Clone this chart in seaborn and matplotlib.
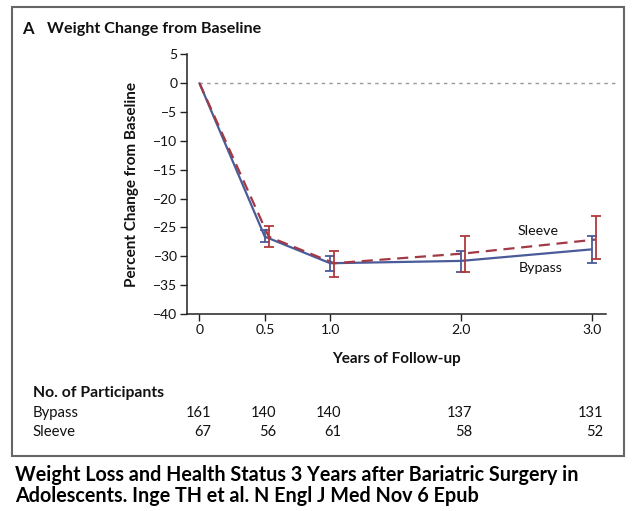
import numpy as np
import pandas as pd
import matplotlib
matplotlib.use("Agg")
import matplotlib.pyplot as plt
import matplotlib.transforms as mtransforms
from matplotlib.patches import Rectangle
import seaborn as sns

# ---- data ----
years = [0, 0.5, 1.0, 2.0, 3.0]
bypass_mean = [0.0, -26.6, -31.2, -30.8, -28.8]
bypass_low = [np.nan, -27.5, -32.5, -32.7, -31.1]
bypass_high = [np.nan, -25.5, -29.9, -29.0, -26.5]
sleeve_mean = [0.0, -26.6, -31.2, -29.5, -27.1]
sleeve_low = [np.nan, -28.4, -33.6, -32.8, -30.5]
sleeve_high = [np.nan, -24.7, -29.1, -26.5, -23.0]
xtick_labels = ["0", "0.5", "1.0", "2.0", "3.0"]
yticks = [5, 0, -5, -10, -15, -20, -25, -30, -35, -40]
n_bypass = [161, 140, 140, 137, 131]
n_sleeve = [67, 56, 61, 58, 52]

sns.set_style("ticks")
plt.rcParams["font.family"] = ["Lato", "DejaVu Sans"]
plt.rcParams["axes.unicode_minus"] = True

BLUE = "#4a5b9a"
RED = "#a23a45"
RED_ERR = "#b03a3c"

fig = plt.figure(figsize=(6.33, 5.11), dpi=100)
fig.patch.set_facecolor("white")
ax = fig.add_axes([0.2959, 0.3855, 0.6614, 0.5082])

off = 0.03
sleeve_x = [y + (off if y > 0 else 0) for y in years]

df = pd.DataFrame({
    "x": list(years) + sleeve_x,
    "y": bypass_mean + sleeve_mean,
    "group": ["Bypass"] * len(years) + ["Sleeve"] * len(years),
})
sns.lineplot(data=df, x="x", y="y", hue="group", style="group",
             palette={"Bypass": BLUE, "Sleeve": RED},
             dashes={"Bypass": "", "Sleeve": (5, 3)},
             linewidth=1.6, legend=False, ax=ax, sort=False)

bm = np.array(bypass_mean); sm = np.array(sleeve_mean)
ax.errorbar(years[1:], bm[1:],
            yerr=[bm[1:] - np.array(bypass_low[1:]), np.array(bypass_high[1:]) - bm[1:]],
            fmt="none", ecolor=BLUE, elinewidth=1.3, capsize=3.5, capthick=1.3, zorder=3)
ax.errorbar(sleeve_x[1:], sm[1:],
            yerr=[sm[1:] - np.array(sleeve_low[1:]), np.array(sleeve_high[1:]) - sm[1:]],
            fmt="none", ecolor=RED_ERR, elinewidth=1.3, capsize=3.5, capthick=1.3, zorder=3)

# zero reference line
ax.plot([0, 3.196], [0, 0], color="#999999", lw=1.0, ls=(0, (2.5, 3)),
        clip_on=False, zorder=1)

ax.set_xlim(-0.093, 3.11)
ax.set_ylim(-40, 5)
ax.set_xticks(years)
ax.set_xticklabels(xtick_labels)
ax.set_yticks(yticks)
ax.set_yticklabels([("\u2212" + str(abs(v))) if v < 0 else str(v) for v in yticks])
ax.tick_params(axis="both", labelsize=10, length=5, width=1.0, color="#222222",
               labelcolor="#111111", direction="out", pad=2)
for s in ["top", "right"]:
    ax.spines[s].set_visible(False)
for s in ["left", "bottom"]:
    ax.spines[s].set_linewidth(1.1)
    ax.spines[s].set_color("#222222")
ax.set_xlabel("Years of Follow-up", fontsize=11, fontweight="bold", labelpad=12, color="#111111")
ax.set_ylabel("Percent Change from Baseline", fontsize=11, fontweight="bold", labelpad=10, color="#111111")
ax.set_facecolor("white")

ax.text(2.59, -25.6, "Sleeve", ha="center", va="center", fontsize=10.3, color="#111111")
ax.text(2.61, -32.1, "Bypass", ha="center", va="center", fontsize=10.3, color="#111111")

# title
fig.text(0.035, 0.944, "A", fontsize=12, fontweight="bold", va="center", ha="left", color="#111111")
fig.text(0.074, 0.944, "Weight Change from Baseline", fontsize=11.6, fontweight="bold",
         va="center", ha="left", color="#111111")

# participants table
trans = mtransforms.blended_transform_factory(ax.transData, fig.transFigure)
fig.text(0.052, 0.2309, "No. of Participants", fontsize=11.3, fontweight="bold",
         va="center", ha="left", color="#111111")
fig.text(0.052, 0.1918, "Bypass", fontsize=10.7, va="center", ha="left", color="#111111")
fig.text(0.052, 0.1546, "Sleeve", fontsize=10.7, va="center", ha="left", color="#111111")
for xv, nb, ns in zip(years, n_bypass, n_sleeve):
    ax.text(xv + 0.087, 0.1918, str(nb), transform=trans, fontsize=10.5, ha="right",
            va="center", color="#111111", clip_on=False)
    ax.text(xv + 0.087, 0.1546, str(ns), transform=trans, fontsize=10.5, ha="right",
            va="center", color="#111111", clip_on=False)

# frame
fig.patches.append(Rectangle((0.019, 0.1076), 0.9668, 0.878, transform=fig.transFigure,
                             fill=False, edgecolor="#666666", linewidth=1.5))

# caption
fig.text(0.0237, 0.0705, "Weight Loss and Health Status 3 Years after Bariatric Surgery in",
         fontsize=14.2, fontweight="bold", va="center", ha="left", color="black")
fig.text(0.0237, 0.0290, "Adolescents. Inge TH et al. N Engl J Med Nov 6 Epub",
         fontsize=14.2, fontweight="bold", va="center", ha="left", color="black")

fig.savefig("out.png", dpi=100, facecolor="white")
